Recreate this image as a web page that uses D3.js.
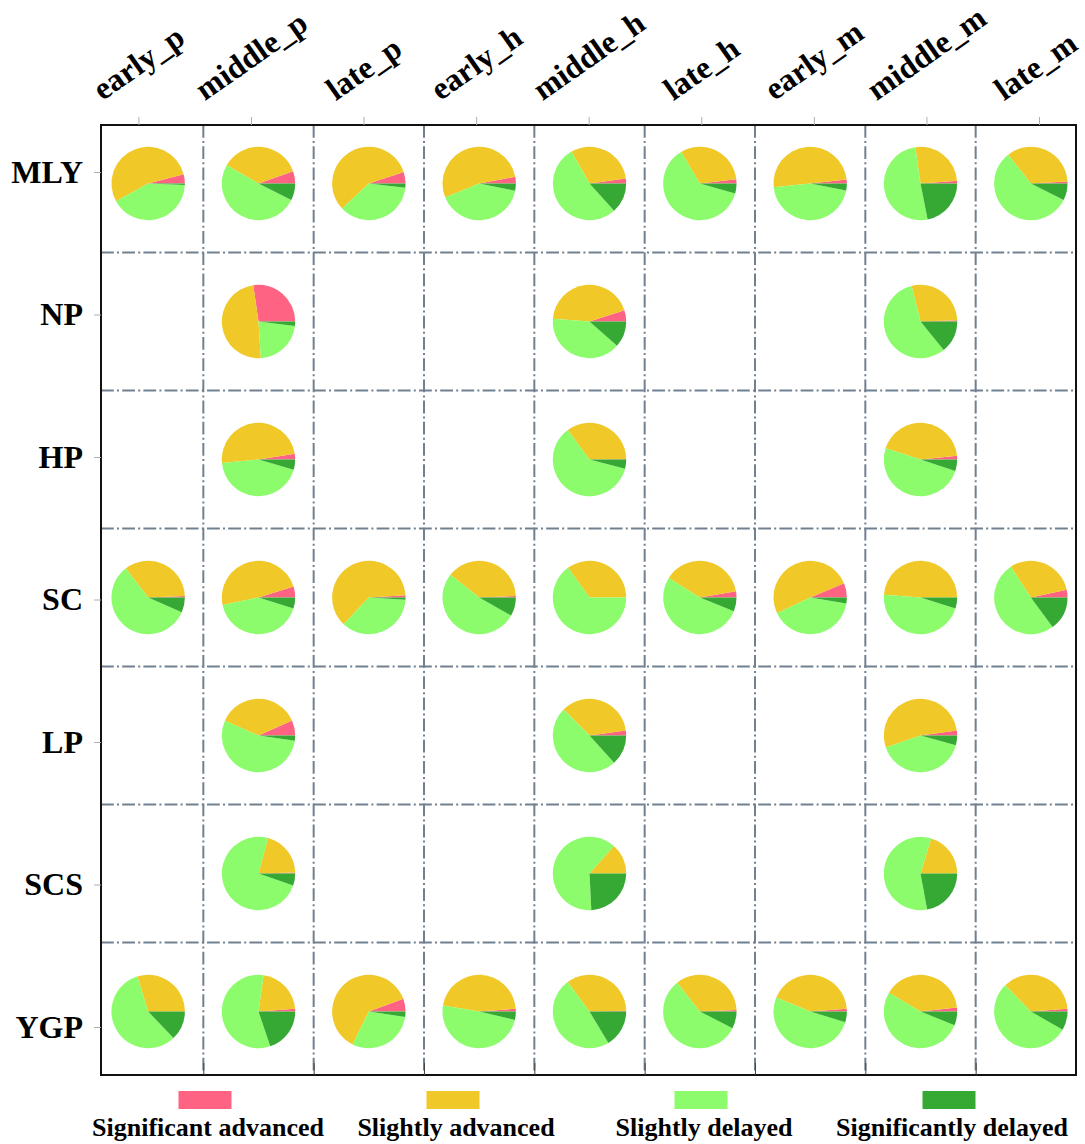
<!DOCTYPE html>
<html>
<head>
<meta charset="utf-8">
<script src="https://cdn.jsdelivr.net/npm/d3@7/dist/d3.min.js"></script>
<style>
  html, body { margin: 0; padding: 0; background: #fff; }
  svg text { font-family: "Liberation Serif", "Times New Roman", serif; font-weight: bold; fill: #000; }
</style>
</head>
<body>
<div id="chart"></div>
<script>
// phases (columns) and regions (rows)
const columns = ['early_p', 'middle_p', 'late_p', 'early_h', 'middle_h', 'late_h', 'early_m', 'middle_m', 'late_m'];
const regions = ['MLY', 'NP', 'HP', 'SC', 'LP', 'SCS', 'YGP'];
const categories = ['Significant advanced', 'Slightly advanced', 'Slightly delayed', 'Significantly delayed'];

// shares (%) per cell: [sig. advanced, slightly advanced, slightly delayed, sig. delayed]
const MLY = [
  [4.1, 53.9, 41.3, 0.7], [5.4, 36.3, 50.9, 7.4], [5.1, 56.9, 36.2, 1.8],
  [2.9, 53.4, 40.6, 3.2], [2.2, 31.0, 53.5, 13.3], [1.9, 31.6, 62.1, 4.4],
  [1.7, 49.9, 45.2, 3.1], [1.2, 26.1, 50.9, 21.9], [0.9, 34.7, 57.0, 7.4]
];
const NP = [
  null, [27.3, 48.7, 22.0, 2.0], null,
  null, [5.0, 43.8, 39.7, 11.5], null,
  null, [0.5, 28.4, 57.0, 14.1], null
];
const HP = [
  null, [2.5, 49.0, 44.0, 4.5], null,
  null, [0.2, 34.9, 60.9, 4.0], null,
  null, [1.6, 43.4, 49.9, 5.1], null
];
const SC = [
  [0.7, 34.8, 57.9, 6.6], [4.8, 48.5, 41.8, 4.9], [1.0, 62.0, 36.0, 1.0],
  [0.7, 38.7, 52.4, 8.2], [0, 35.0, 65.0, 0], [2.7, 38.4, 52.8, 6.1],
  [6.3, 50.8, 40.3, 2.6], [0, 48.8, 46.3, 4.9], [3.4, 30.8, 50.9, 14.9]
];
const LP = [
  null, [6.7, 36.7, 54.3, 2.3], null,
  null, [2.2, 35.3, 49.2, 13.3], null,
  null, [2.2, 53.1, 40.4, 4.3], null
];
const SCS = [
  null, [0.4, 20.4, 73.9, 5.3], null,
  null, [0, 13.4, 62.4, 24.2], null,
  null, [0, 20.3, 57.6, 22.1], null
];
const YGP = [
  [0, 29.8, 57.3, 12.9], [1.2, 21.6, 57.4, 19.8], [5.6, 62.1, 29.9, 2.4],
  [1.2, 46.2, 48.9, 3.7], [0.3, 34.9, 48.4, 16.4], [0.7, 34.9, 56.9, 7.5],
  [1.2, 42.6, 51.5, 4.7], [1.7, 39.8, 52.4, 6.1], [1.2, 36.1, 54.4, 8.3]
];
const tableRows = [MLY, NP, HP, SC, LP, SCS, YGP];

const colors = ['#ff6384', '#f0c929', '#8cfc6c', '#36a935'];

const width = 1085, height = 1144;
const frame = { l: 101, r: 1076, t: 125, b: 1075 };
const radius = 36.7;

const svg = d3.select('#chart').append('svg')
  .attr('width', width)
  .attr('height', height);

// cell grid (pies) and the outer tick axes
const xCell = d3.scaleBand().domain(columns).range([93, 1086]);
const yCell = d3.scaleBand().domain(regions).range([114.5, 1080.5]);
const xTick = d3.scalePoint().domain(columns).range([138.4, 1039]);
const yTick = d3.scalePoint().domain(regions).range([172, 1027]);
const xEdge = d3.scaleLinear().domain([0, columns.length]).range(xCell.range());

// dash-dot dividers
const grid = svg.append('g')
  .attr('stroke', '#708090')
  .attr('stroke-width', 2)
  .attr('stroke-dasharray', '12.8,3.2,2,3.2');

grid.selectAll('.vline')
  .data(columns.slice(1))
  .join('line')
    .attr('x1', d => xCell(d)).attr('x2', d => xCell(d))
    .attr('y1', frame.t).attr('y2', frame.b);

grid.selectAll('.hline')
  .data(regions.slice(1))
  .join('line')
    .attr('x1', frame.l).attr('x2', frame.r)
    .attr('y1', d => yCell(d)).attr('y2', d => yCell(d));

// pies: start at 3 o'clock, counter-clockwise
const pie = d3.pie()
  .sort(null)
  .startAngle(Math.PI / 2)
  .endAngle(Math.PI / 2 - 2 * Math.PI);
const arc = d3.arc().innerRadius(0).outerRadius(radius);

const cells = [];
regions.forEach((r, i) => {
  tableRows[i].forEach((vals, j) => {
    if (vals) cells.push({ region: r, column: columns[j], vals });
  });
});

const pies = svg.append('g').selectAll('g')
  .data(cells)
  .join('g')
    .attr('transform', d => 'translate(' + (xCell(d.column) + xCell.bandwidth() / 2) + ',' +
                                     (yCell(d.region) + yCell.bandwidth() / 2) + ')');

pies.selectAll('path')
  .data(d => pie(d.vals))
  .join('path')
    .attr('d', arc)
    .attr('fill', (d, i) => colors[i]);

// frame
svg.append('rect')
  .attr('x', frame.l).attr('y', frame.t)
  .attr('width', frame.r - frame.l).attr('height', frame.b - frame.t)
  .attr('fill', 'none')
  .attr('stroke', '#111')
  .attr('stroke-width', 2);

// top ticks (labels drawn separately, rotated)
const topAxis = svg.append('g')
  .attr('transform', 'translate(0,' + frame.t + ')')
  .call(d3.axisTop(xTick).tickSize(8).tickFormat(''));
topAxis.select('.domain').remove();
topAxis.selectAll('line').attr('stroke', '#b0b0b0');

const colLabels = svg.append('g').selectAll('text')
  .data(columns)
  .join('text')
    .attr('font-size', 32)
    .text(d => d);

// rotate and sit the rotated box bottom on a fixed line, centred on the tick
// (kept inside the page on the right)
const rot = -35;
const ang = rot * Math.PI / 180;
colLabels.each(function(d) {
  const b = this.getBBox();
  const pts = [[b.x, b.y], [b.x + b.width, b.y], [b.x, b.y + b.height], [b.x + b.width, b.y + b.height]]
    .map(p => [p[0] * Math.cos(ang) - p[1] * Math.sin(ang), p[0] * Math.sin(ang) + p[1] * Math.cos(ang)]);
  const xs = pts.map(p => p[0]), ys = pts.map(p => p[1]);
  let tx = xTick(d) - (d3.min(xs) + d3.max(xs)) / 2;
  tx = Math.min(tx, width - 1 - d3.max(xs));
  const ty = 107 - d3.max(ys);
  d3.select(this).attr('transform', 'translate(' + tx + ',' + ty + ') rotate(' + rot + ')');
});

// left axis with region names
const leftAxis = svg.append('g')
  .attr('transform', 'translate(' + frame.l + ',0)')
  .call(d3.axisLeft(yTick).tickSize(7).tickPadding(11));
leftAxis.select('.domain').remove();
leftAxis.selectAll('line').attr('stroke', '#b0b0b0');
leftAxis.selectAll('text')
  .attr('font-size', 32)
  .attr('font-family', '"Liberation Serif", "Times New Roman", serif')
  .attr('font-weight', 'bold')
  .attr('fill', '#000');

// bottom ticks on the cell boundaries, pointing inward
const bottomAxis = svg.append('g')
  .attr('transform', 'translate(0,' + frame.b + ')')
  .call(d3.axisBottom(xEdge).tickValues(d3.range(1, columns.length)).tickSize(-12).tickFormat(''));
bottomAxis.select('.domain').remove();
bottomAxis.selectAll('line').attr('stroke', '#444').attr('stroke-width', 1);

// legend
const xLegend = d3.scalePoint().domain(categories).range([205, 949]);
const legend = svg.append('g').selectAll('g')
  .data(categories)
  .join('g')
    .attr('transform', d => 'translate(' + xLegend(d) + ',0)');

legend.append('rect')
  .attr('x', -26.5).attr('y', 1091)
  .attr('width', 53).attr('height', 18)
  .attr('fill', (d, i) => colors[i]);

legend.append('text')
  .attr('x', 3)
  .attr('y', 1136)
  .attr('text-anchor', 'middle')
  .attr('font-size', 26)
  .text(d => d);
</script>
</body>
</html>
